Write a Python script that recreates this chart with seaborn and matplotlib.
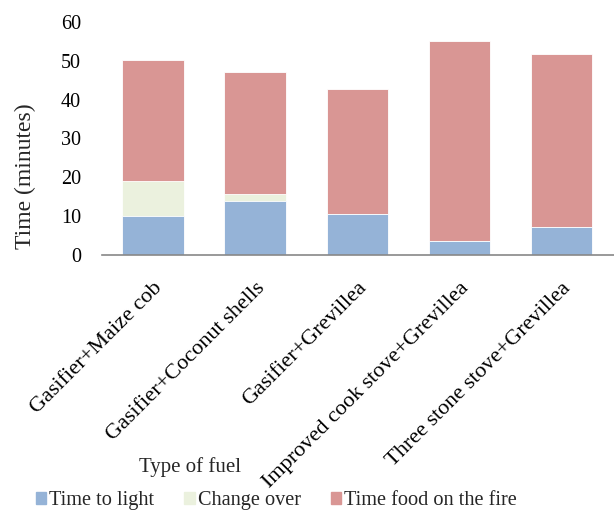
import matplotlib
matplotlib.use("Agg")
import matplotlib.pyplot as plt
import matplotlib.patches as mpatches
import seaborn as sns
import numpy as np
import pandas as pd

categories = ["Gasifier+Maize cob", "Gasifier+Coconut shells", "Gasifier+Grevillea",
              "Improved cook stove+Grevillea", "Three stone stove+Grevillea"]
time_to_light = [10.1, 13.9, 10.5, 3.6, 7.3]
change_over = [9.0, 1.9, 0.0, 0.0, 0.0]
time_food = [31.0, 31.2, 32.2, 51.6, 44.4]
series_names = ["Time to light", "Change over", "Time food on the fire"]
colors = ["#95B3D7", "#EBF1DE", "#D99694"]

sns.set_theme(style="white")
plt.rcParams['font.family'] = ['Liberation Serif', 'DejaVu Serif']

fig = plt.figure(figsize=(6.14, 5.12), dpi=100)
ax = fig.add_axes([0.166, 0.502, 0.84, 0.455])

c1 = np.array(time_to_light)
c2 = c1 + np.array(change_over)
c3 = c2 + np.array(time_food)
layers = [c3, c2, c1]
layer_colors = [colors[2], colors[1], colors[0]]
for vals, col in zip(layers, layer_colors):
    df = pd.DataFrame({"cat": categories, "val": vals})
    sns.barplot(data=df, x="cat", y="val", color=col, width=0.6, ax=ax,
                saturation=1, edgecolor="white", linewidth=0.6)

ax.set_ylim(0, 60)
ax.set_yticks(range(0, 61, 10))
ax.set_xlim(-0.5, 4.55)
for s in ["top", "right", "left"]:
    ax.spines[s].set_visible(False)
ax.spines["bottom"].set_color("#888888")
ax.spines["bottom"].set_linewidth(1.2)
ax.tick_params(axis="both", length=0, colors="black")
ax.tick_params(axis="y", pad=15, labelsize=14.5)
ax.tick_params(axis="x", pad=17, labelsize=16)
plt.setp(ax.get_xticklabels(), rotation=45, ha="right", rotation_mode="anchor")
ax.set_ylabel("")
ax.set_xlabel("")
fig.text(0.042, 0.656, "Time (minutes)", fontsize=17, rotation=90,
         ha="center", va="center")
fig.text(0.31, 0.087, "Type of fuel", fontsize=15, ha="center", va="center")

handles = [mpatches.Patch(color=c, label=n) for c, n in zip(colors, series_names)]
fig.legend(handles=handles, loc="center", bbox_to_anchor=(0.45, 0.022), ncol=3,
           frameon=False, fontsize=14.6, handlelength=0.5, handleheight=0.5,
           handletextpad=0.15, columnspacing=1.5, borderaxespad=0)

fig.savefig("out.png", dpi=100)
